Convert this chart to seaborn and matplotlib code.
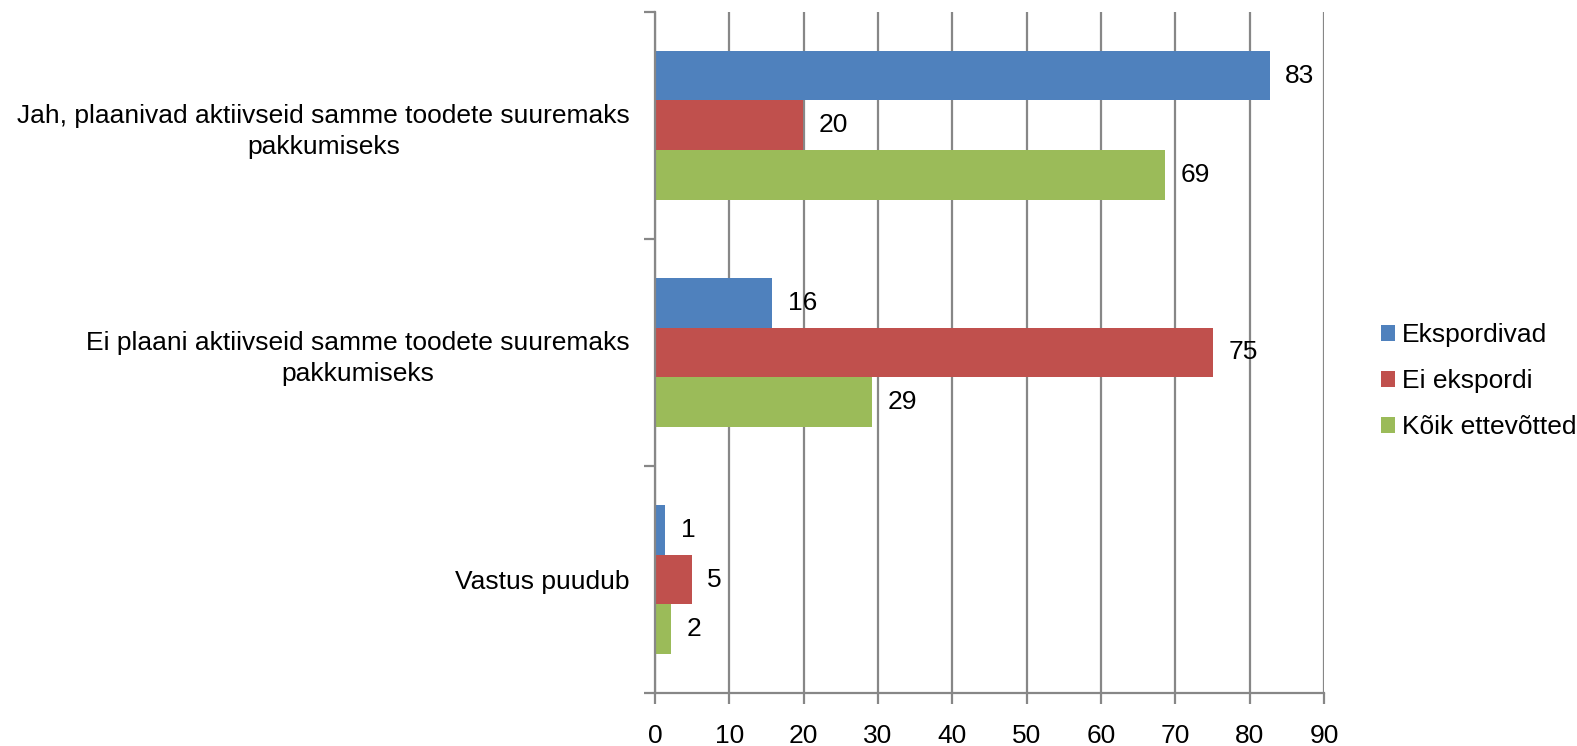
import matplotlib
matplotlib.use("Agg")
import matplotlib.pyplot as plt
from matplotlib.ticker import FixedLocator
import seaborn as sns
import pandas as pd

# Data
categories = [
    "Jah, plaanivad aktiivseid samme toodete suuremaks\npakkumiseks",
    "Ei plaani aktiivseid samme toodete suuremaks\npakkumiseks",
    "Vastus puudub",
]
series = ["Ekspordivad", "Ei ekspordi", "Kõik ettevõtted"]
ekspordivad = [82.7, 15.8, 1.4]
ei_ekspordi = [19.9, 75.1, 5.0]
koik = [68.6, 29.2, 2.2]
colors = ["#4F81BD", "#C0504D", "#9BBB59"]

df = pd.DataFrame({
    "kategooria": categories * 3,
    "grupp": [series[0]] * 3 + [series[1]] * 3 + [series[2]] * 3,
    "vaartus": ekspordivad + ei_ekspordi + koik,
})

sns.set_style("white")
plt.rcParams["font.family"] = ["Liberation Sans", "DejaVu Sans"]
plt.rcParams["text.color"] = "black"
plt.rcParams["xtick.labelcolor"] = "black"
plt.rcParams["ytick.labelcolor"] = "black"
fs = 19

fig = plt.figure(figsize=(15.77, 7.46), dpi=100)
ax = fig.add_axes([0.4153, 0.071, 0.8396 - 0.4153, 0.913])

sns.barplot(
    data=df, y="kategooria", x="vaartus", hue="grupp",
    order=categories, hue_order=series, palette=colors,
    orient="h", width=0.66, saturation=1, linewidth=0, ax=ax, legend=True,
)

for cont in ax.containers:
    ax.bar_label(cont, fmt="%.0f", padding=11, fontsize=fs)

ax.set_xlim(0, 90)
ax.set_ylim(2.5, -0.5)
ax.set_xticks(range(0, 91, 10))
ax.grid(axis="x", color="#878787", linewidth=1.6)
ax.set_axisbelow(True)
ax.set_xlabel("")
ax.set_ylabel("")

for s in ["top", "right"]:
    ax.spines[s].set_visible(False)
for s in ["left", "bottom"]:
    ax.spines[s].set_color("#878787")
    ax.spines[s].set_linewidth(1.6)

ax.tick_params(axis="x", labelsize=fs, length=8, width=1.6, color="#878787",
               direction="out", bottom=True, pad=14)
ax.tick_params(axis="y", which="major", length=0, labelsize=fs, pad=18)
ax.yaxis.set_minor_locator(FixedLocator([-0.5, 0.5, 1.5, 2.5]))
ax.tick_params(axis="y", which="minor", length=8, width=1.6, color="#878787",
               direction="out", left=True)
for lbl in ax.get_yticklabels():
    lbl.set_multialignment("center")
    lbl.set_linespacing(1.35)

ax.legend(loc="center left", bbox_to_anchor=(0.8757, 0.489),
          bbox_transform=fig.transFigure, frameon=False, fontsize=fs,
          handlelength=0.53, handleheight=0.53, handletextpad=0.25,
          labelspacing=0.83, borderaxespad=0, borderpad=0)

fig.savefig("out.png", dpi=100)
